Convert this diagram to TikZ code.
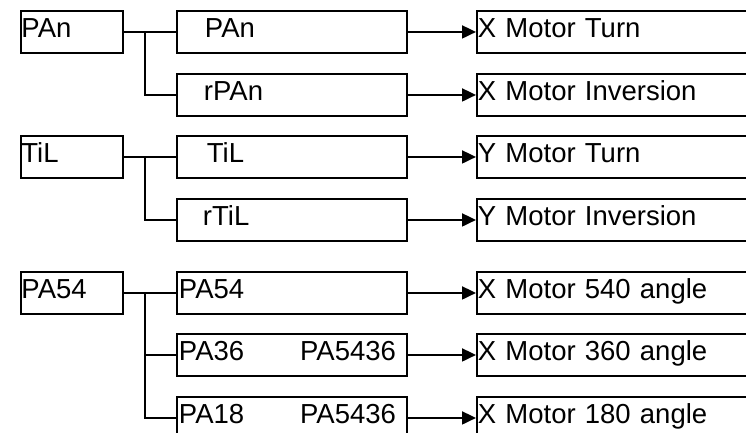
\documentclass[tikz,border=0pt]{standalone}
\usepackage{fontspec}
\setmainfont{Liberation Sans}
\usetikzlibrary{arrows.meta}
\begin{document}
\begin{tikzpicture}[x=1pt,y=-1pt,
  bx/.style={draw, line width=1.9pt, rectangle, anchor=north west, minimum height=42pt,
    inner ysep=0pt, text height=20pt, text depth=8pt, align=left,
    font=\fontsize{27.5}{30}\selectfont},
  lb/.style={bx, inner xsep=0.5pt, text width=101pt},
  rb/.style={bx, inner xsep=1pt, text width=320pt},
  ln/.style={line width=1.9pt},
  ar/.style={ln, -{Triangle[length=14pt,width=13pt]}}]
\useasboundingbox (0,0) rectangle (746,432);
\clip (0,0) rectangle (746,432);
% left boxes
\node[lb] (l1) at (20,10) {PAn};
\node[lb] (l2) at (20,135) {TiL};
\node[lb] (l3) at (20,271) {PA54};
% middle boxes
\node[bx, inner xsep=28pt, text width=174pt] (m1) at (176,10) {PAn};
\node[bx, inner xsep=27pt, text width=176pt] (m2) at (176,73) {rPAn};
\node[bx, inner xsep=30pt, text width=170pt] (m3) at (176,135) {TiL};
\node[bx, inner xsep=26pt, text width=178pt] (m4) at (176,198) {rTiL};
\node[bx, inner xsep=2pt, text width=226pt] (m5) at (176,271) {PA54};
\node[bx, inner xsep=2pt, text width=226pt] (m6) at (176,333) {PA36\hfill PA5436\kern9pt};
\node[bx, inner xsep=2pt, text width=226pt] (m7) at (176,396) {PA18\hfill PA5436\kern9pt};
% right boxes
\node[rb] (r1) at (476,10) {X Motor Turn};
\node[rb] (r2) at (476,73) {X Motor Inversion};
\node[rb] (r3) at (476,135) {Y Motor Turn};
\node[rb] (r4) at (476,198) {Y Motor Inversion};
\node[rb] (r5) at (476,271) {X Motor 540 angle};
\node[rb] (r6) at (476,333) {X Motor 360 angle};
\node[rb] (r7) at (476,396) {X Motor 180 angle};
% tree connectors
\draw[ln] (l1.east) -- (m1.west);
\draw[ln] ([xshift=21pt]l1.east) |- (m2.west);
\draw[ln] (l2.east) -- (m3.west);
\draw[ln] ([xshift=21pt]l2.east) |- (m4.west);
\draw[ln] (l3.east) -- (m5.west);
\draw[ln] ([xshift=21pt]l3.east) |- (m6.west);
\draw[ln] ([xshift=21pt]l3.east) |- (m7.west);
% arrows
\foreach \i in {1,...,7} \draw[ar] (m\i.east) -- (r\i.west);
\end{tikzpicture}
\end{document}
